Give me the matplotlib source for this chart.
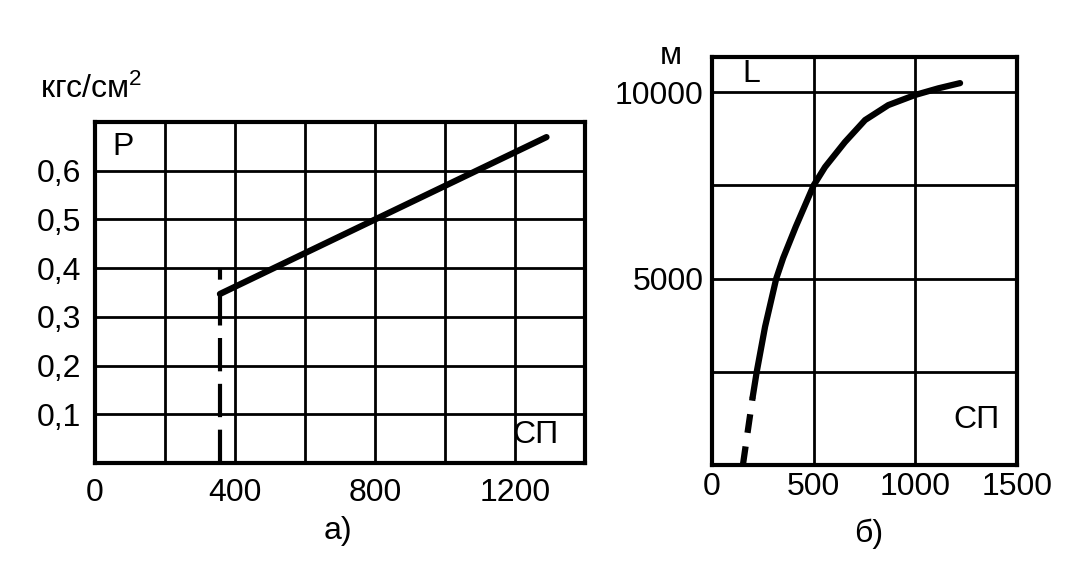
import matplotlib
matplotlib.use("Agg")
import matplotlib.pyplot as plt

plt.rcParams['font.family'] = ['Liberation Sans', 'DejaVu Sans']
plt.rcParams['mathtext.fontset'] = 'custom'
plt.rcParams['mathtext.rm'] = 'Liberation Sans'
plt.rcParams['mathtext.it'] = 'Liberation Sans'

# ---- panel a) data ----
p_x = [357, 1290]              # СП
p_y = [0.347, 0.669]           # P, кгс/см2
p_dash_x = [357, 357]
p_dash_y = [0.0, 0.40]
a_xticks = [0, 200, 400, 600, 800, 1000, 1200, 1400]
a_xlabels = ['0', '', '400', '', '800', '', '1200', '']
a_yticks = [0.1, 0.2, 0.3, 0.4, 0.5, 0.6]
a_ylabels = ['0,1', '0,2', '0,3', '0,4', '0,5', '0,6']

# ---- panel b) data ----
L_x = [200, 220, 261, 316, 350, 412, 500, 556, 654, 753, 867, 998, 1113, 1220]
L_y = [1820, 2500, 3708, 5000, 5550, 6390, 7500, 7990, 8660, 9250, 9650, 9920, 10100, 10240]
L_dash_x = [152, 200]
L_dash_y = [0, 1820]
b_xticks = [0, 500, 1000, 1500]
b_xlabels = ['0', '500', '1000', '1500']
b_yticks = [2500, 5000, 7500, 10000]
b_ylabels = ['', '5000', '', '10000']

W, H = 1068, 568
fig = plt.figure(figsize=(W / 100, H / 100), dpi=100)

def fx(px):
    return px / W

def fy(py):
    return 1 - py / H

FS = 23
GRID_LW = 2.0
SPINE_LW = 3.0
CURVE_LW = 4.5

# panel a
ax1 = fig.add_axes([fx(95), fy(463), (585 - 95) / W, (463 - 122) / H])
ax1.set_xlim(0, 1400)
ax1.set_ylim(0, 0.7)
ax1.set_xticks(a_xticks)
ax1.set_xticklabels(a_xlabels)
ax1.set_yticks(a_yticks)
ax1.set_yticklabels(a_ylabels)
ax1.tick_params(axis='both', length=0, labelsize=FS)
ax1.tick_params(axis='y', pad=10)
ax1.tick_params(axis='x', pad=11)
ax1.grid(True, color='black', linewidth=GRID_LW)
for s in ax1.spines.values():
    s.set_linewidth(SPINE_LW)
ax1.plot(p_x, p_y, color='black', linewidth=CURVE_LW, solid_capstyle='round')
ax1.plot(p_dash_x, p_dash_y, color='black', linewidth=3.0, linestyle=(0, (8, 3)))
ax1.text(0.035, 0.903, 'Р', transform=ax1.transAxes, fontsize=FS, ha='left', va='baseline')
ax1.text(0.945, 0.059, 'СП', transform=ax1.transAxes, fontsize=FS, ha='right', va='baseline')

# panel b
ax2 = fig.add_axes([fx(712), fy(465), (1017 - 712) / W, (465 - 57) / H])
ax2.set_xlim(0, 1500)
ax2.set_ylim(0, 10940)
ax2.set_xticks(b_xticks)
ax2.set_xticklabels(b_xlabels)
ax2.set_yticks(b_yticks)
ax2.set_yticklabels(b_ylabels)
ax2.tick_params(axis='both', length=0, labelsize=FS)
ax2.tick_params(axis='y', pad=6)
ax2.tick_params(axis='x', pad=5)
ax2.grid(True, color='black', linewidth=GRID_LW)
for s in ax2.spines.values():
    s.set_linewidth(SPINE_LW)
ax2.plot(L_x, L_y, color='black', linewidth=CURVE_LW, solid_capstyle='round',
         solid_joinstyle='round')
ax2.plot(L_dash_x, L_dash_y, color='black', linewidth=CURVE_LW,
         linestyle=(0, (3.0, 2.2)), dash_capstyle='butt')
ax2.text(0.098, 0.939, 'L', transform=ax2.transAxes, fontsize=FS, ha='left', va='baseline')
ax2.text(0.944, 0.091, 'СП', transform=ax2.transAxes, fontsize=FS, ha='right', va='baseline')

# outer texts
fig.text(fx(40), fy(98), 'кгс/см$^{2}$', fontsize=23, ha='left', va='baseline')
fig.text(fx(671), fy(56), 'м', fontsize=FS, ha='center', va='center')
fig.text(fx(338), fy(531), 'а)', fontsize=FS, ha='center', va='center')
fig.text(fx(869), fy(534), 'б)', fontsize=FS, ha='center', va='center')

fig.savefig('out.png', dpi=100, facecolor='white')
